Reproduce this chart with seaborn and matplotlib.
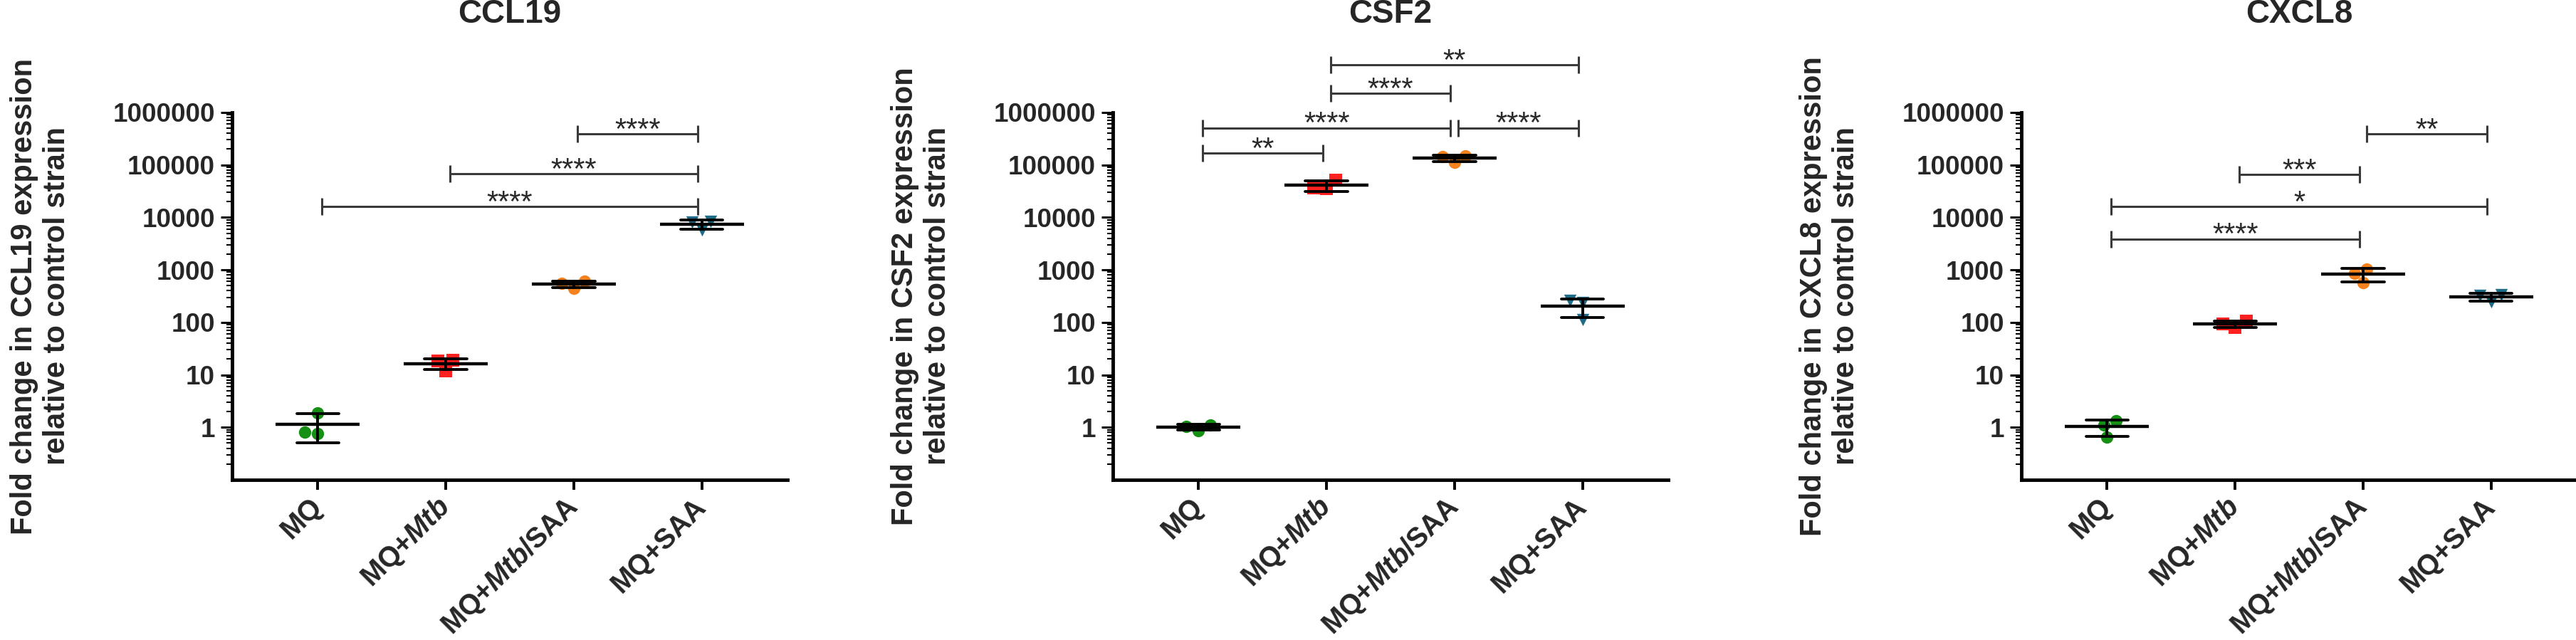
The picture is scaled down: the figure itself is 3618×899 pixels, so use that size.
import numpy as np
import pandas as pd
import matplotlib
matplotlib.use('Agg')
import matplotlib.pyplot as plt
import matplotlib.ticker as mticker
import seaborn as sns

# groups on the x axis
groups = ['MQ', 'MQ+Mtb', 'MQ+Mtb/SAA', 'MQ+SAA']
group_labels = ['MQ', r'MQ+$\mathit{Mtb}$', r'MQ+$\mathit{Mtb}$/SAA', 'MQ+SAA']
group_colors = ['#159015', '#ff2020', '#f5821f', '#1d6b86']
group_markers = ['o', 's', 'o', 'v']

genes = ['CCL19', 'CSF2', 'CXCL8']

# fold change values, three replicates per group
ccl19_mq = [1.9, 0.75, 0.8]
ccl19_mtb = [19.0, 12.0, 18.5]
ccl19_mtb_saa = [600, 450, 560]
ccl19_saa = [8500, 5700, 8200]

csf2_mq = [1.1, 0.87, 1.05]
csf2_mtb = [52000, 35000, 36000]
csf2_mtb_saa = [150000, 113000, 142000]
csf2_saa = [260, 235, 112]

cxcl8_mq = [1.35, 1.1, 0.65]
cxcl8_mtb = [105, 80, 92]
cxcl8_mtb_saa = [1050, 580, 870]
cxcl8_saa = [340, 245, 330]

# significance brackets: (group a, group b, label, bracket height)
ccl19_sig = [(2, 3, '****', 3.9e5), (1, 3, '****', 6.9e4), (0, 3, '****', 1.6e4)]
csf2_sig = [(1, 3, '**', 8.1e6), (1, 2, '****', 2.3e6), (0, 2, '****', 5.1e5),
            (2, 3, '****', 5.1e5), (0, 1, '**', 1.66e5)]
cxcl8_sig = [(2, 3, '**', 3.9e5), (1, 2, '***', 6.6e4), (0, 3, '*', 1.6e4),
             (0, 2, '****', 3.9e3)]

values = {
    'CCL19': [ccl19_mq, ccl19_mtb, ccl19_mtb_saa, ccl19_saa],
    'CSF2': [csf2_mq, csf2_mtb, csf2_mtb_saa, csf2_saa],
    'CXCL8': [cxcl8_mq, cxcl8_mtb, cxcl8_mtb_saa, cxcl8_saa],
}
sigs = {'CCL19': ccl19_sig, 'CSF2': csf2_sig, 'CXCL8': cxcl8_sig}

sns.set_style('ticks')
plt.rcParams['font.family'] = ['Liberation Sans', 'DejaVu Sans']
plt.rcParams['font.weight'] = 'bold'
plt.rcParams['mathtext.fontset'] = 'custom'
plt.rcParams['mathtext.it'] = 'Liberation Sans:italic'
plt.rcParams['mathtext.rm'] = 'Liberation Sans:bold'

fig = plt.figure(figsize=(36.18, 8.99), dpi=100)
lefts = [0.0901, 0.4320, 0.7847]

for gene, left in zip(genes, lefts):
    ax = fig.add_axes([left, 0.2503, 0.2156, 0.574])
    rows = []
    for g, vals in zip(groups, values[gene]):
        for v in vals:
            rows.append({'group': g, 'value': v})
    df = pd.DataFrame(rows)

    # mean +/- SD (computed on linear values, like the original)
    sns.pointplot(data=df, x='group', y='value', order=groups, estimator='mean',
                  errorbar='sd', capsize=0.33, color='black', marker='_',
                  markersize=85, markeredgewidth=3.2, linestyle='none',
                  err_kws={'linewidth': 2.8}, ax=ax)
    ax.set_yscale('log')

    for g, c, m in zip(groups, group_colors, group_markers):
        sns.swarmplot(data=df[df['group'] == g], x='group', y='value', order=groups,
                      color=c, marker=m, size=12.5, linewidth=0, ax=ax, zorder=1)

    ax.set_xlim(-0.67, 3.67)
    ax.set_ylim(0.1, 1e6)
    ax.yaxis.set_major_locator(mticker.FixedLocator([1, 10, 100, 1e3, 1e4, 1e5, 1e6]))
    ax.yaxis.set_major_formatter(mticker.FuncFormatter(lambda v, p: f'{int(round(v))}'))
    ax.yaxis.set_minor_locator(mticker.LogLocator(base=10, subs=np.arange(2, 10), numticks=20))
    ax.yaxis.set_minor_formatter(mticker.NullFormatter())

    ax.set_xticks(range(len(groups)))
    ax.set_xticklabels(group_labels, rotation=45, ha='right', va='center',
                       rotation_mode='anchor', fontsize=28.5, fontweight='bold')
    for lab in ax.get_yticklabels():
        lab.set_fontsize(26.5)
        lab.set_fontweight('bold')

    ax.tick_params(axis='y', which='major', length=11.5, width=2.2, pad=6, color='black')
    ax.tick_params(axis='y', which='minor', length=5.5, width=1.5, color='black')
    ax.tick_params(axis='x', which='major', length=10, width=2.8, pad=13, color='black')

    sns.despine(ax=ax)
    for side in ['left', 'bottom']:
        ax.spines[side].set_linewidth(3.5)
        ax.spines[side].set_color('black')

    ax.set_xlabel('')
    ax.set_ylabel(f'Fold change in {gene} expression\nrelative to control strain',
                  fontsize=30, fontweight='bold')
    ax.yaxis.set_label_coords(-0.29, 0.5)
    ax.set_title(gene, fontsize=33, fontweight='bold', y=1.252, va='center')

    # significance brackets
    for a, b, label, h in sigs[gene]:
        ax.plot([a + 0.03, b - 0.03], [h, h], color='#3a3a3a', lw=2.2,
                marker='|', markersize=17, markeredgewidth=2.2, clip_on=False)
        ax.annotate(label, xy=((a + b) / 2, h), xytext=(0, -5), textcoords='offset points',
                    ha='center', va='baseline', fontsize=30, fontweight='normal',
                    color='#2a2a2a', annotation_clip=False)

fig.savefig('out.png', dpi=100)
